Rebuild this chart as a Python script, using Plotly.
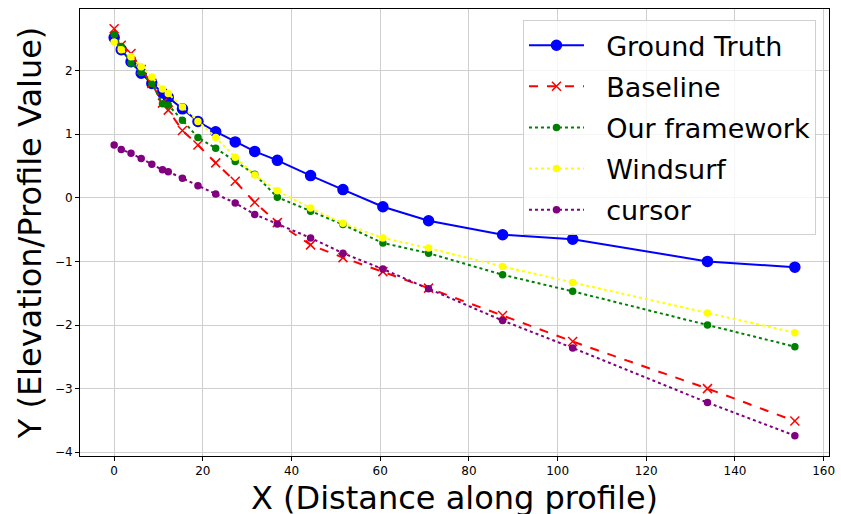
import plotly.graph_objects as go

x = [0, 1.6, 3.8, 6.1, 8.5, 10.9, 12.2, 15.4, 18.9, 22.9, 27.3, 31.7, 36.8,
     44.3, 51.6, 60.6, 70.9, 87.6, 103.4, 133.8, 153.5]
ground_truth = [2.52, 2.33, 2.14, 1.96, 1.80, 1.65, 1.58, 1.40, 1.20, 1.04, 0.88,
                0.73, 0.59, 0.35, 0.13, -0.14, -0.36, -0.58, -0.65, -1.00, -1.09]
baseline = [2.66, 2.40, 2.27, 2.02, 1.80, 1.49, 1.38, 1.06, 0.83, 0.55, 0.26,
            -0.07, -0.39, -0.74, -0.94, -1.16, -1.42, -1.85, -2.26, -3.00, -3.51]
our_framework = [2.57, 2.38, 2.12, 1.97, 1.80, 1.48, 1.46, 1.22, 0.95, 0.78, 0.57,
                 0.37, 0.01, -0.21, -0.42, -0.71, -0.87, -1.21, -1.47, -2.00, -2.34]
windsurf = [2.45, 2.33, 2.22, 2.06, 1.90, 1.71, 1.64, 1.43, 1.20, 0.95, 0.64,
            0.36, 0.11, -0.16, -0.40, -0.63, -0.79, -1.08, -1.33, -1.81, -2.12]
cursor = [0.83, 0.76, 0.70, 0.62, 0.53, 0.44, 0.41, 0.31, 0.19, 0.06, -0.08,
          -0.26, -0.41, -0.63, -0.87, -1.12, -1.43, -1.93, -2.36, -3.22, -3.74]

xticks = [0, 20, 40, 60, 80, 100, 120, 140, 160]
yticks = [-4, -3, -2, -1, 0, 1, 2]

series = [
    ("Ground Truth", ground_truth, "blue", "solid", "circle", 10),
    ("Baseline", baseline, "red", "dash", "x-thin-open", 9),
    ("Our framework", our_framework, "green", "dot", "circle", 6),
    ("Windsurf", windsurf, "yellow", "dot", "circle", 6),
    ("cursor", cursor, "purple", "dot", "circle", 6),
]

fig = go.Figure()
for name, ys, color, dash, sym, size in series:
    fig.add_trace(go.Scatter(
        x=x, y=ys, name="\u00a0\u00a0" + name, mode="lines+markers", legendgroup=name,
        line=dict(color=color, dash=dash, width=2),
        marker=dict(color=color, symbol=sym, size=size,
                    line=dict(color=color, width=1.5)),
    ))

axis_common = dict(
    showgrid=True, gridcolor="#cfcfcf", gridwidth=1,
    showline=True, linecolor="black", linewidth=1, mirror=True,
    ticks="outside", ticklen=4, tickcolor="black", zeroline=False,
    automargin=False,
    tickfont=dict(family="DejaVu Sans", size=12, color="black"),
)

fig.update_layout(
    width=841, height=514,
    margin=dict(l=80, r=12, t=9, b=58),
    paper_bgcolor="white", plot_bgcolor="white",
    font=dict(family="DejaVu Sans", color="black"),
    xaxis=dict(range=[-7.7, 161.2], tickvals=xticks, **axis_common),
    yaxis=dict(range=[-4.06, 2.97], tickvals=yticks, **axis_common),
    legend=dict(
        x=0.9826, y=0.975, xanchor="right", yanchor="top",
        bgcolor="rgba(255,255,255,0.8)", bordercolor="#d0d0d0", borderwidth=1,
        font=dict(family="DejaVu Sans", size=27, color="black"),
        itemwidth=55, tracegroupgap=3,
    ),
    showlegend=True,
    annotations=[
        dict(text="X (Distance along profile)", xref="paper", yref="paper",
             x=0.5, y=-0.047, xanchor="center", yanchor="top", showarrow=False,
             font=dict(family="DejaVu Sans", size=32, color="black")),
        dict(text="Y (Elevation/Profile Value)", xref="paper", yref="paper",
             x=-0.067, y=0.5, xanchor="center", yanchor="middle", showarrow=False,
             textangle=-90,
             font=dict(family="DejaVu Sans", size=32, color="black")),
    ],
)

fig.write_html("out.html", config={"displayModeBar": False},
               post_script="document.body.style.margin='0';")
